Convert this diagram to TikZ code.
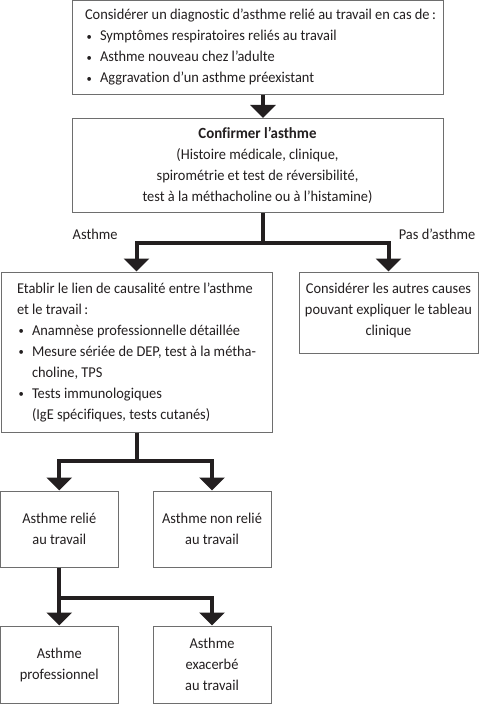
\documentclass[tikz,border=0pt]{standalone}
\usepackage{fontspec}
\setmainfont{Carlito}[FakeStretch=0.96, Ligatures=NoCommon]
\usetikzlibrary{arrows.meta,positioning}
\definecolor{Ink}{HTML}{231F20}
\definecolor{BoxEdge}{HTML}{6E6E6E}
\newcommand{\puce}[1]{\par\hangindent=15pt\hangafter=1%
  \makebox[15pt][l]{\hspace{1.5pt}\raisebox{0.5pt}{\fontsize{11}{11}\selectfont\textbullet}}#1\par}
\tikzset{
  flow/.style={-{Triangle[length=13pt,width=25pt]}, draw=Ink, line width=4pt},
  stepbox/.style={draw=BoxEdge, fill=white, line width=1pt, inner xsep=13pt, inner ysep=0pt,
    font=\rmfamily\fontsize{15}{21}\selectfont, text=Ink},
  leftbox/.style={stepbox, align=flush left},
  midbox/.style={stepbox, align=flush center},
  branchlabel/.style={font=\rmfamily\fontsize{15}{17}\selectfont, text=Ink, inner sep=0pt},
}
\begin{document}
\begin{tikzpicture}[x=1pt, y=-1pt]
  \useasboundingbox (0,0) rectangle (479,706);

  % Diagnostic and confirmation.
  \node[leftbox, text width=357pt, inner xsep=7pt, minimum width=371pt, minimum height=94pt] (diag) at (257.5,47.5)
    {\leftskip=6pt Considérer un diagnostic d’asthme relié au travail en cas de\,:
     \puce{Symptômes respiratoires reliés au travail}
     \puce{Asthme nouveau chez l’adulte}
     \puce{Aggravation d’un asthme préexistant}};
  \node[midbox, text width=353pt, inner xsep=9pt, minimum width=371pt, minimum height=94pt, below=23pt of diag] (confirm)
    {{\bfseries\fontsize{15.5}{21}\selectfont Confirmer l’asthme}\\(Histoire médicale, clinique,\\spirométrie et test de réversibilité,\\test à la méthacholine ou à l’histamine)};

  % Second level.
  \node[leftbox, text width=239pt, inner xsep=16pt, minimum width=271pt, minimum height=160pt] (link) at (136.5,352)
    {Etablir le lien de causalité entre l’asthme\\et le travail\,:
     \puce{Anamnèse professionnelle détaillée}
     \puce{Mesure sériée de DEP, test à la métha-\newline choline, TPS}
     \puce{Tests immunologiques\newline (IgE spécifiques, tests cutanés)}};
  \node[midbox, text width=175pt, inner xsep=2pt, minimum width=179pt, minimum height=81pt] (other) at (388.5,312.5)
    {Considérer les autres causes\\pouvant expliquer le tableau\\clinique\vspace*{5pt}};

  \node[branchlabel, anchor=base west] (yesLbl) at ([xshift=1pt,yshift=-26pt]confirm.south west) {Asthme};
  \node[branchlabel, anchor=base east] (noLbl) at ([xshift=-3pt,yshift=-26pt]confirm.south -| other.east) {Pas d’asthme};

  % Work relation and its subtypes.
  \node[midbox, text width=110pt, inner xsep=4pt, minimum width=117.5pt, minimum height=76pt] (related) at (59.25,529)
    {Asthme relié\\au travail};
  \node[midbox, text width=110pt, inner xsep=4pt, minimum width=118pt, minimum height=76pt] (unrelated) at (212,529)
    {Asthme non relié\\au travail};
  \node[midbox, text width=110pt, inner xsep=4pt, minimum width=117.5pt, minimum height=77pt] (occup) at (59.25,664.5)
    {Asthme\\professionnel};
  \node[midbox, text width=110pt, inner xsep=4pt, minimum width=118pt, minimum height=77pt] (exacer) at (212,664.5)
    {Asthme\\exacerbé\\au travail};

  \draw[flow] ([xshift=5.5pt]diag.south) -- ([xshift=5.5pt]confirm.north);
  \draw[flow] ([xshift=5.5pt]confirm.south) -- ++(0,30) -| (link.north);
  \draw[flow] ([xshift=5.5pt]confirm.south) -- ++(0,30) -| (other.north);
  \draw[flow] (link.south) -- ++(0,28) -| (related.north);
  \draw[flow] (link.south) -- ++(0,28) -| (unrelated.north);
  \draw[flow] (related.south) -- (occup.north);
  \draw[flow] (related.south) -- ++(0,30) -| (exacer.north);

\end{tikzpicture}
\end{document}
